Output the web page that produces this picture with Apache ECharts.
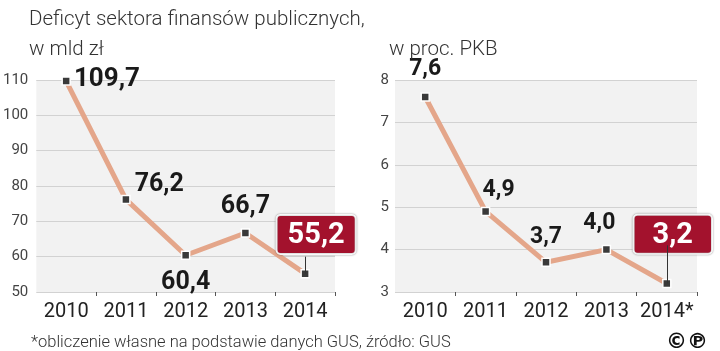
<!DOCTYPE html>
<html>
<head>
<meta charset="utf-8">
<script src="https://cdn.jsdelivr.net/npm/echarts@6/dist/echarts.min.js"></script>
<style>
  html, body { margin: 0; padding: 0; background: #fff; }
  #chart { width: 720px; height: 351px; }
</style>
</head>
<body>
<div id="chart"></div>
<script>
// dane
const lata = ['2010', '2011', '2012', '2013', '2014'];
const lataProc = ['2010', '2011', '2012', '2013', '2014*'];
const deficytMld = [109.7, 76.2, 60.4, 66.7, 55.2];
const deficytPkb = [7.6, 4.9, 3.7, 4.0, 3.2];

const chart = echarts.init(document.getElementById('chart'));

const lineColor = '#e4a68a';
const boldFont = 'Roboto, sans-serif';
const fmt = v => v.toFixed(1).replace('.', ',');

// pozycje etykiet (ostatnia w czerwonej ramce)
const labelsMld = [
  { position: 'right', distance: 3, offset: [0, -2], fontSize: 26 },
  { position: 'right', distance: 4, offset: [0, -15], fontSize: 25 },
  { position: 'bottom', distance: 10, fontSize: 25 },
  { position: 'top', distance: 9, fontSize: 25 }
];
const labelsPkb = [
  { position: 'top', distance: 11, fontSize: 23 },
  { position: 'top', distance: 5, offset: [13, 0], fontSize: 23 },
  { position: 'top', distance: 9, fontSize: 23 },
  { position: 'top', distance: 10, offset: [-7, 0], fontSize: 23 }
];

function buildData(values, labels, boxOffset, boxPad) {
  return values.map((v, i) => {
    if (i === values.length - 1) {
      return {
        value: v,
        label: {
          position: 'top',
          distance: 16,
          offset: boxOffset,
          color: '#fff',
          fontSize: 29,
          backgroundColor: '#a3122d',
          borderColor: '#fff',
          borderWidth: 2,
          borderRadius: 3,
          shadowColor: 'rgba(0,0,0,0.45)',
          shadowBlur: 2,
          padding: boxPad
        }
      };
    }
    return { value: v, label: labels[i] };
  });
}

function series(values, labels, gridIdx, boxOffset, boxPad, leader) {
  return {
    type: 'line',
    xAxisIndex: gridIdx,
    yAxisIndex: gridIdx,
    data: buildData(values, labels, boxOffset, boxPad),
    symbol: 'rect',
    symbolSize: 8,
    itemStyle: { color: '#3a3a3a', borderColor: '#fff', borderWidth: 1.5 },
    lineStyle: { color: lineColor, width: 5 },
    label: {
      show: true,
      formatter: p => fmt(p.value),
      fontFamily: boldFont,
      fontWeight: 'bold',
      color: '#1a1a1a'
    },
    z: 3,
    markLine: {
      silent: true,
      symbol: 'none',
      label: { show: false },
      lineStyle: { color: '#333', width: 1, type: 'solid' },
      data: [[
        { coord: [values.length - 1, values[values.length - 1]] },
        { coord: [values.length - 1, leader] }
      ]]
    }
  };
}

const axisLabelY = { color: '#444', fontSize: 15, fontFamily: 'Roboto' };
const axisLabelX = { color: '#222', fontSize: 20, fontFamily: 'Roboto', margin: 10, interval: 0, hideOverlap: false };

chart.setOption({
  animation: false,
  title: [
    {
      text: 'Deficyt sektora finansów publicznych,\nw mld zł',
      left: 24, top: 0,
      textStyle: { fontFamily: 'Roboto', fontWeight: 300, fontSize: 20.5, lineHeight: 30, color: '#333' }
    },
    {
      text: 'w proc. PKB',
      left: 384, top: 30,
      textStyle: { fontFamily: 'Roboto', fontWeight: 300, fontSize: 20.5, lineHeight: 30, color: '#333' }
    },
    {
      text: '*obliczenie własne na podstawie danych GUS, źródło: GUS',
      left: 26, top: 329,
      textStyle: { fontFamily: 'Roboto', fontWeight: 300, fontSize: 16.5, color: '#333' }
    },
    {
      text: '©℗',
      right: 7, top: 327,
      textStyle: { fontFamily: 'DejaVu Sans', fontWeight: 'bold', fontSize: 21, color: '#111' }
    }
  ],
  grid: [
    { left: 35, right: 385, top: 80, bottom: 59, show: true, backgroundColor: '#f2f2f2', borderWidth: 0 },
    { left: 395, right: 23, top: 80, bottom: 59, show: true, backgroundColor: '#f2f2f2', borderWidth: 0 }
  ],
  xAxis: [
    {
      type: 'category', gridIndex: 0, data: lata, boundaryGap: true,
      axisLine: { show: false },
      axisTick: { show: true, length: 4, interval: i => i !== 0, lineStyle: { color: '#555' } },
      axisLabel: axisLabelX
    },
    {
      type: 'category', gridIndex: 1, data: lataProc, boundaryGap: true,
      axisLine: { show: false },
      axisTick: { show: true, length: 4, interval: i => i !== 0, lineStyle: { color: '#555' } },
      axisLabel: axisLabelX
    }
  ],
  yAxis: [
    {
      type: 'value', gridIndex: 0, min: 50, max: 110, interval: 10,
      axisLine: { show: false }, axisTick: { show: false },
      splitLine: { lineStyle: { color: '#d2d2d2' } },
      axisLabel: Object.assign({ margin: 8 }, axisLabelY)
    },
    {
      type: 'value', gridIndex: 1, min: 3, max: 8, interval: 1,
      axisLine: { show: false }, axisTick: { show: false },
      splitLine: { lineStyle: { color: '#d2d2d2' } },
      axisLabel: Object.assign({ margin: 6 }, axisLabelY)
    }
  ],
  series: [
    series(deficytMld, labelsMld, 0, [11, 0], [5, 10, 3, 10], 60),
    series(deficytPkb, labelsPkb, 1, [6, -10], [5, 18, 3, 18], 4.1)
  ]
});
</script>
</body>
</html>
